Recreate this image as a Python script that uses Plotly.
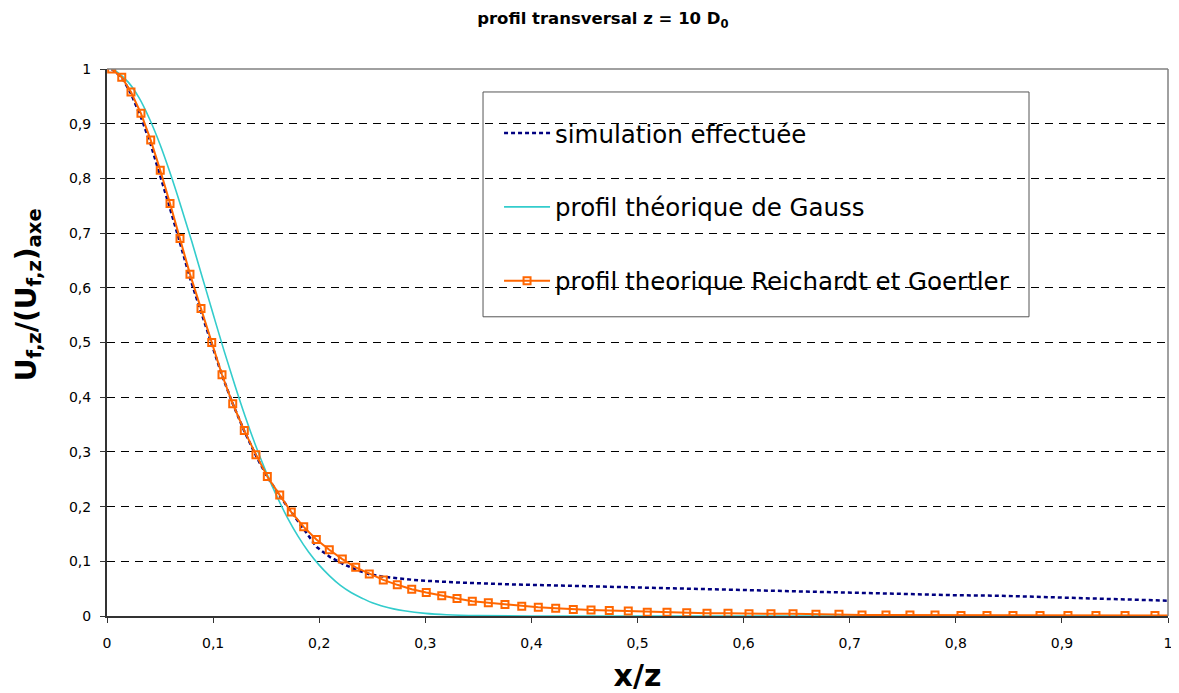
import plotly.graph_objects as go

# ---- data ----
rg_x = [0.0044, 0.0139, 0.0226, 0.0320, 0.0412, 0.0502, 0.0594, 0.0688, 0.0782, 0.0886,
        0.0987, 0.1084, 0.1185, 0.1294, 0.1404, 0.1511, 0.1628, 0.1737, 0.1854, 0.1973,
        0.2095, 0.2218, 0.2344, 0.2472, 0.2604, 0.2736, 0.2872, 0.3009, 0.3155, 0.3299,
        0.3443, 0.3594, 0.3751, 0.3909, 0.4065, 0.4229, 0.4395, 0.4562, 0.4734, 0.4913,
        0.5092, 0.5278, 0.5464, 0.5655, 0.5853, 0.6051, 0.6258, 0.6466, 0.6682, 0.6899,
        0.7116, 0.7342, 0.7568, 0.7804, 0.8049, 0.8294, 0.8539, 0.8794, 0.9057, 0.9321,
        0.9595, 0.9877, 1.0170]
rg_y = [1.000, 0.985, 0.958, 0.919, 0.870, 0.815, 0.754, 0.690, 0.625, 0.562,
        0.500, 0.441, 0.388, 0.339, 0.295, 0.255, 0.221, 0.190, 0.163, 0.140,
        0.121, 0.104, 0.089, 0.077, 0.066, 0.057, 0.049, 0.043, 0.037, 0.032,
        0.027, 0.024, 0.021, 0.018, 0.016, 0.014, 0.012, 0.011, 0.010, 0.009,
        0.007, 0.007, 0.006, 0.005, 0.005, 0.004, 0.004, 0.004, 0.003, 0.003,
        0.002, 0.002, 0.002, 0.002, 0.001, 0.001, 0.001, 0.001, 0.001, 0.001,
        0.001, 0.001, 0.001]

gauss_x = [0.0044, 0.01, 0.02, 0.03, 0.04, 0.05, 0.06, 0.07, 0.08, 0.09, 0.10,
           0.11, 0.12, 0.13, 0.14, 0.15, 0.16, 0.17, 0.18, 0.19, 0.20,
           0.21, 0.22, 0.23, 0.24, 0.25, 0.26, 0.27, 0.28, 0.30, 0.32,
           0.35, 0.40, 0.50, 0.60, 0.70, 0.80, 0.90, 1.00]
gauss_y = [1.000, 0.994, 0.976, 0.948, 0.909, 0.862, 0.807, 0.747, 0.684, 0.618, 0.552,
           0.487, 0.425, 0.366, 0.312, 0.263, 0.219, 0.180, 0.146, 0.117, 0.093,
           0.073, 0.056, 0.043, 0.033, 0.024, 0.018, 0.013, 0.0095, 0.0048, 0.0023,
           0.0007, 0.0001, 0.0, 0.0, 0.0, 0.0, 0.0, 0.0]

sim_x = [0.0044, 0.0139, 0.0226, 0.0320, 0.0412, 0.0502, 0.0594, 0.0688, 0.0782, 0.0886,
         0.0987, 0.1084, 0.1185, 0.1294, 0.1404, 0.1511, 0.1630, 0.1835, 0.1976, 0.2100,
         0.2227, 0.2353, 0.2480, 0.2600, 0.2730, 0.2890, 0.3040, 0.3330, 0.3770, 0.4400,
         0.5020, 0.5710, 0.6500, 0.7160, 0.8000, 0.8420, 0.9000, 0.9520, 1.0000]
sim_y = [1.000, 0.985, 0.955, 0.912, 0.862, 0.806, 0.745, 0.682, 0.618, 0.556,
         0.497, 0.440, 0.388, 0.338, 0.293, 0.254, 0.219, 0.163, 0.126, 0.108,
         0.095, 0.084, 0.076, 0.072, 0.069, 0.066, 0.064, 0.061, 0.058, 0.055,
         0.052, 0.048, 0.045, 0.041, 0.038, 0.037, 0.034, 0.031, 0.028]

names = ["simulation effectuée", "profil théorique de Gauss",
         "profil theorique Reichardt et Goertler"]
tick_vals = [0, 0.1, 0.2, 0.3, 0.4, 0.5, 0.6, 0.7, 0.8, 0.9, 1]

FONT = "DejaVu Sans"

fig = go.Figure()
fig.add_trace(go.Scatter(x=sim_x, y=sim_y, mode="lines", name=names[0],
                         legendgroup="a",
                         line=dict(color="#000080", width=2.5, dash="4px,3px")))
fig.add_trace(go.Scatter(x=gauss_x, y=gauss_y, mode="lines", name=names[1],
                         legendgroup="b", line_shape="spline",
                         line=dict(color="#33CCCC", width=1.6)))
fig.add_trace(go.Scatter(x=rg_x, y=rg_y, mode="lines+markers", name=names[2],
                         legendgroup="c",
                         line=dict(color="#FF6600", width=2),
                         marker=dict(symbol="square-open", size=7,
                                     color="#FF6600", line=dict(width=2, color="#FF6600"))))

# page body has an 8px margin: figure is sized to fit the window with it
fig.update_layout(
    width=1171, height=685,
    margin=dict(l=99, r=11, t=61, b=77, autoexpand=False),
    paper_bgcolor="white", plot_bgcolor="white",
    separators=", ",
    font=dict(family=FONT, color="black", size=14),
    title=dict(text="<b>profil transversal z = 10 D<sub>0</sub></b>",
               x=0.508, xanchor="center", y=0.985, yanchor="middle",
               font=dict(family=FONT, size=16.5, color="black")),
    showlegend=True,
    legend=dict(x=0.3695, xanchor="left", y=0.924, yanchor="top",
                bgcolor="rgba(0,0,0,0)", borderwidth=0,
                font=dict(family=FONT, size=24.5, color="black"),
                traceorder="grouped", tracegroupgap=39, itemwidth=46),
    shapes=[
        dict(type="rect", xref="paper", yref="paper", x0=0.3544, x1=0.869,
             y0=0.547, y1=0.958, line=dict(color="#555555", width=1),
             fillcolor="rgba(255,255,255,0)", layer="above"),
        dict(type="line", xref="paper", yref="paper", x0=0, x1=1, y0=1, y1=1,
             line=dict(color="#808080", width=1.5)),
        dict(type="line", xref="paper", yref="paper", x0=1, x1=1, y0=0, y1=1,
             line=dict(color="#808080", width=1.5)),
    ],
    annotations=[
        dict(text="<b>U<sub>f,z</sub>/(U<sub>f,z</sub>)<sub>axe</sub></b>",
             xref="paper", yref="paper", x=-0.0745, y=0.588,
             xanchor="center", yanchor="middle", textangle=-90, showarrow=False,
             font=dict(family=FONT, size=28, color="black")),
    ],
)
fig.update_xaxes(range=[0, 1], tickvals=tick_vals, showgrid=False, zeroline=False,
                 automargin=False,
                 showline=True, linecolor="#333333", linewidth=2,
                 ticks="outside", ticklen=5, tickcolor="#333333",
                 ticklabelstandoff=8,
                 tickfont=dict(family=FONT, size=14, color="black"),
                 title=dict(text="<b>x/z</b>", font=dict(family=FONT, size=30, color="black"),
                            standoff=16))
fig.update_yaxes(range=[0, 1], tickvals=tick_vals, showgrid=True, gridcolor="black",
                 griddash="8px,6px", gridwidth=1, zeroline=False,
                 automargin=False,
                 showline=True, linecolor="#333333", linewidth=2,
                 ticks="outside", ticklen=5, tickcolor="#333333",
                 ticklabelstandoff=6,
                 tickfont=dict(family=FONT, size=14, color="black"))

fig.write_html("out.html")
